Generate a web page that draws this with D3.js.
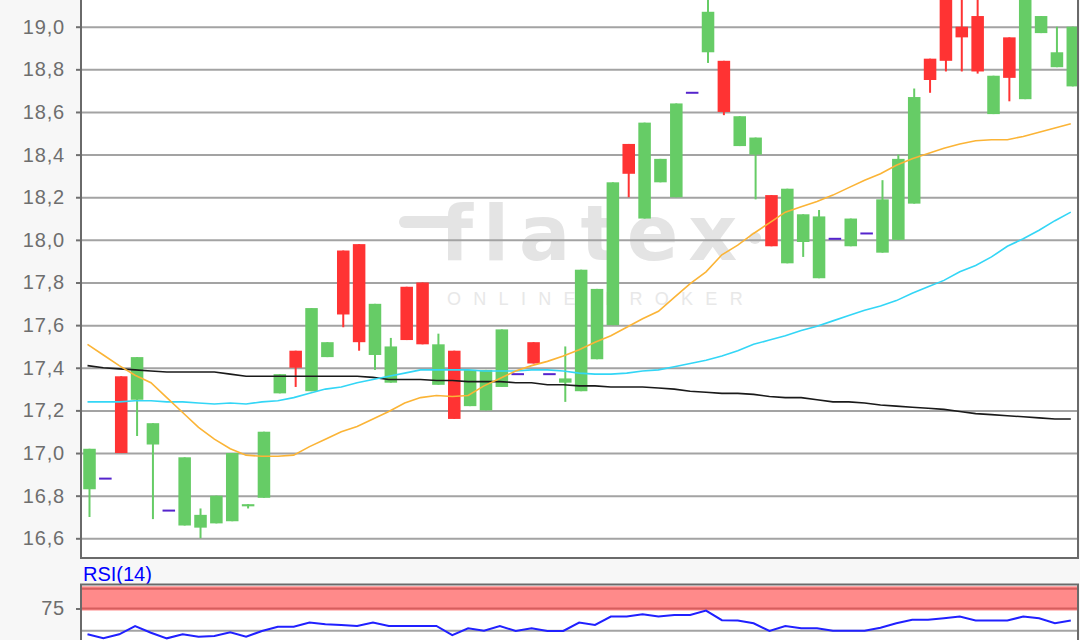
<!DOCTYPE html>
<html><head><meta charset="utf-8">
<script src="https://cdn.jsdelivr.net/npm/d3@7"></script>
<style>html,body{margin:0;padding:0;background:#f7f7f7;} svg{display:block;}</style>
</head><body><svg id="c" width="1080" height="640"></svg>
<script>
// ---- data ----
const opens  = [16.83,16.88,17.36,17.25,17.04,16.73,16.66,16.65,16.67,16.68,16.75,16.79,17.28,17.48,17.29,17.45,17.95,17.98,17.46,17.33,17.78,17.80,17.32,17.48,17.22,17.20,17.31,17.37,17.52,17.37,17.33,17.29,17.44,17.60,18.45,18.10,18.27,18.20,18.69,18.88,18.84,18.44,18.40,18.21,17.89,17.99,17.82,18.005,17.97,18.03,17.94,18.00,18.17,18.85,19.20,19.00,19.05,18.59,18.95,18.66,18.97,18.81,18.72];
const highs  = [17.02,16.88,17.36,17.45,17.14,16.73,16.98,16.74,16.80,17.00,16.76,17.10,17.37,17.48,17.68,17.52,17.95,17.98,17.70,17.54,17.78,17.80,17.56,17.48,17.39,17.39,17.58,17.37,17.52,17.37,17.50,17.86,17.77,18.27,18.45,18.55,18.38,18.64,18.69,19.16,18.84,18.58,18.48,18.21,18.24,18.12,18.14,18.005,18.10,18.03,18.28,18.40,18.71,18.85,19.20,19.20,19.20,18.77,18.95,19.20,19.05,19.00,19.00];
const lows   = [16.70,16.88,17.00,17.08,16.69,16.73,16.66,16.60,16.67,16.68,16.74,16.79,17.28,17.31,17.29,17.45,17.59,17.48,17.39,17.33,17.53,17.51,17.32,17.16,17.22,17.20,17.31,17.37,17.42,17.37,17.24,17.29,17.44,17.60,18.20,18.10,18.27,18.20,18.69,18.83,18.585,18.44,18.19,17.97,17.89,17.92,17.82,18.005,17.97,18.03,17.94,18.00,18.17,18.69,18.79,18.79,18.78,18.59,18.65,18.66,18.97,18.81,18.72];
const closes = [17.02,16.88,17.00,17.45,17.14,16.73,16.98,16.71,16.80,17.00,16.76,17.10,17.37,17.40,17.68,17.52,17.65,17.52,17.70,17.50,17.53,17.51,17.51,17.16,17.39,17.39,17.58,17.37,17.42,17.37,17.35,17.86,17.77,18.27,18.31,18.55,18.38,18.64,18.69,19.07,18.60,18.58,18.48,17.97,18.24,18.12,18.11,18.005,18.10,18.03,18.19,18.38,18.67,18.75,18.84,18.95,18.79,18.77,18.76,19.20,19.05,18.88,19.00];
const maShort = [17.51,17.46,17.41,17.365,17.33,17.26,17.19,17.12,17.065,17.02,16.99,16.985,16.985,16.99,17.03,17.065,17.10,17.125,17.16,17.195,17.235,17.26,17.27,17.265,17.27,17.315,17.35,17.385,17.41,17.43,17.455,17.485,17.52,17.55,17.59,17.63,17.665,17.73,17.795,17.85,17.93,17.975,18.03,18.08,18.13,18.155,18.18,18.21,18.245,18.28,18.31,18.35,18.38,18.405,18.43,18.45,18.465,18.47,18.47,18.485,18.505,18.525,18.545];
const maMid = [17.24,17.24,17.24,17.245,17.245,17.24,17.24,17.235,17.23,17.235,17.23,17.24,17.245,17.26,17.28,17.30,17.31,17.33,17.345,17.36,17.375,17.39,17.39,17.39,17.39,17.385,17.385,17.385,17.39,17.39,17.385,17.375,17.37,17.37,17.375,17.385,17.39,17.405,17.42,17.435,17.455,17.48,17.51,17.53,17.55,17.575,17.595,17.62,17.645,17.67,17.69,17.715,17.75,17.78,17.81,17.85,17.88,17.92,17.97,18.005,18.045,18.09,18.13];
const maLong = [17.41,17.40,17.395,17.39,17.385,17.38,17.38,17.38,17.38,17.37,17.36,17.36,17.36,17.36,17.36,17.36,17.36,17.36,17.355,17.345,17.345,17.345,17.34,17.34,17.335,17.335,17.335,17.33,17.33,17.32,17.32,17.315,17.315,17.31,17.31,17.31,17.305,17.30,17.29,17.285,17.28,17.28,17.275,17.265,17.26,17.26,17.25,17.24,17.24,17.235,17.225,17.22,17.215,17.21,17.205,17.195,17.185,17.18,17.175,17.17,17.165,17.16,17.16];
const rsi = [45.9,41.4,45.9,55.3,47.7,41.4,45.9,43.2,44.0,48.2,43.2,49.7,54.5,54.5,59.1,57.3,56.5,55.3,59.1,55.3,55.3,55.3,55.3,45.1,52.7,50.0,55.3,49.7,52.7,49.7,49.7,59.1,56.5,65.9,65.9,68.6,65.9,67.8,67.8,72.7,61.9,61.4,58.4,49.7,55.3,52.7,52.7,50.0,50.0,50.0,53.4,58.4,62.2,62.2,64.1,65.9,61.4,61.4,61.4,65.9,64.1,58.4,61.4];
const yTicks = [16.6,16.8,17.0,17.2,17.4,17.6,17.8,18.0,18.2,18.4,18.6,18.8,19.0];
const yTickLabels = ["16,6","16,8","17,0","17,2","17,4","17,6","17,8","18,0","18,2","18,4","18,6","18,8","19,0"];
const rsiTicks = [50,75];
const rsiTickLabels = ["","75"];
const rsiZone = [75,100];

// ---- layout ----
const W=1080,H=640;
const L=81, R=1078, mainTop=-60, mainBottom=558;
const rTop=584.5, rBottom=660;
const font="'Liberation Sans', Arial, sans-serif";
const svg=d3.select('#c');
svg.append('rect').attr('width',W).attr('height',H).attr('fill','#f7f7f7');

const idx=d3.range(opens.length);
const x=d3.scalePoint().domain(idx).range([89.5,1072.8]);
const y=d3.scaleLinear().domain([16.6,19.0]).range([538.3,26.7]);
const yR=d3.scaleLinear().domain([50,75]).range([630.7,608.5]);
const bodyW=x.step()*0.79;

const defs=svg.append('defs');
defs.append('clipPath').attr('id','mainClip').append('rect')
  .attr('x',L).attr('y',mainTop).attr('width',R-L).attr('height',mainBottom-mainTop);
defs.append('clipPath').attr('id','rsiClip').append('rect')
  .attr('x',L).attr('y',rTop).attr('width',R-L).attr('height',rBottom-rTop);

// main plot background
svg.append('rect').attr('x',L).attr('y',mainTop).attr('width',R-L).attr('height',mainBottom-mainTop).attr('fill','#fff');

// watermark
const wmc='#e4e4e4';
const wm=svg.append('g').attr('clip-path','url(#mainClip)');
wm.append('line').attr('x1',405).attr('x2',452).attr('y1',222).attr('y2',222)
  .attr('stroke',wmc).attr('stroke-width',12).attr('stroke-linecap','round');
wm.append('text').attr('x',440).attr('y',260).text('flatex')
  .attr('font-family',"'DejaVu Sans', sans-serif").attr('font-weight','bold').attr('font-size',76)
  .attr('letter-spacing',10).attr('fill',wmc);
wm.append('circle').attr('cx',755).attr('cy',238).attr('r',6).attr('fill',wmc);
wm.append('text').attr('x',447).attr('y',305).text('ONLINE BROKER')
  .attr('font-family',font).attr('font-size',18).attr('letter-spacing',12.3).attr('fill','#e8e8e8');

// y axis with gridlines
const yAxis=d3.axisLeft(y).tickValues(yTicks).tickSize(-(R-L)).tickFormat((d,i)=>yTickLabels[i]);
const ga=svg.append('g').attr('transform',`translate(${L},0)`).call(yAxis);
ga.select('.domain').remove();
ga.selectAll('.tick line').attr('stroke','#a3a3a3').attr('stroke-width',2);
ga.selectAll('.tick').append('line').attr('x1',-5).attr('x2',0).attr('stroke','#707070').attr('stroke-width',2);
ga.selectAll('.tick text').attr('x',-16).attr('font-family',font).attr('font-size',20)
  .attr('letter-spacing',0.8).attr('fill','#6e6e6e');

// candles
const gc=svg.append('g').attr('clip-path','url(#mainClip)');
const isFlat=i=>opens[i]===closes[i]&&highs[i]===lows[i];
const col=i=>closes[i]>=opens[i]?'#66cc66':'#ff3333';
const normal=idx.filter(i=>!isFlat(i));
gc.selectAll('line.wick').data(normal).join('line').attr('class','wick')
  .attr('x1',i=>x(i)).attr('x2',i=>x(i)).attr('y1',i=>y(highs[i])).attr('y2',i=>y(lows[i]))
  .attr('stroke',col).attr('stroke-width',2);
gc.selectAll('rect.body').data(normal).join('rect').attr('class','body')
  .attr('x',i=>x(i)-bodyW/2).attr('width',bodyW)
  .attr('y',i=>y(Math.max(opens[i],closes[i])))
  .attr('height',i=>Math.max(1.5,Math.abs(y(opens[i])-y(closes[i]))))
  .attr('fill',col);
gc.selectAll('line.flat').data(idx.filter(isFlat)).join('line').attr('class','flat')
  .attr('x1',i=>x(i)-bodyW/2).attr('x2',i=>x(i)+bodyW/2)
  .attr('y1',i=>y(closes[i])).attr('y2',i=>y(closes[i]))
  .attr('stroke','#5524cc').attr('stroke-width',2);

// moving averages
const mkLine=arr=>d3.line().x((d,i)=>x(i)-2).y(d=>y(d))(arr);
gc.append('path').attr('d',mkLine(maLong)).attr('fill','none').attr('stroke','#1a1a1a').attr('stroke-width',1.6);
gc.append('path').attr('d',mkLine(maMid)).attr('fill','none').attr('stroke','#33d6f6').attr('stroke-width',1.6);
gc.append('path').attr('d',mkLine(maShort)).attr('fill','none').attr('stroke','#fbb436').attr('stroke-width',1.6);

// main borders
const bc='#6a6a6a';
svg.append('line').attr('x1',L).attr('x2',L).attr('y1',mainTop).attr('y2',mainBottom+1).attr('stroke',bc).attr('stroke-width',2);
svg.append('line').attr('x1',R).attr('x2',R).attr('y1',mainTop).attr('y2',mainBottom+1).attr('stroke',bc).attr('stroke-width',2);
svg.append('line').attr('x1',L).attr('x2',R+1).attr('y1',mainBottom).attr('y2',mainBottom).attr('stroke',bc).attr('stroke-width',2);

// ---- RSI panel ----
svg.append('text').attr('x',83).attr('y',581).text('RSI(14)')
  .attr('font-family',font).attr('font-size',20).attr('fill','#0000ff');
svg.append('rect').attr('x',L).attr('y',rTop).attr('width',R-L).attr('height',rBottom-rTop).attr('fill','#fff');
const gr=svg.append('g').attr('clip-path','url(#rsiClip)');
gr.append('rect').attr('x',L).attr('width',R-L)
  .attr('y',yR(rsiZone[1])).attr('height',yR(rsiZone[0])-yR(rsiZone[1])+2)
  .attr('fill','#ff8a8a');
gr.append('line').attr('x1',L).attr('x2',R).attr('y1',yR(rsiZone[1])+2.5).attr('y2',yR(rsiZone[1])+2.5)
  .attr('stroke','#d65e5e').attr('stroke-width',2);
gr.append('line').attr('x1',L).attr('x2',R).attr('y1',yR(rsiZone[0])).attr('y2',yR(rsiZone[0]))
  .attr('stroke','#d65e5e').attr('stroke-width',2);
gr.append('line').attr('x1',L).attr('x2',R).attr('y1',yR(rsiTicks[0])).attr('y2',yR(rsiTicks[0]))
  .attr('stroke','#a3a3a3').attr('stroke-width',2);
gr.append('path').attr('d',d3.line().x((d,i)=>x(i)-2).y(d=>yR(d))(rsi))
  .attr('fill','none').attr('stroke','#2020ff').attr('stroke-width',2);
const rAxis=svg.append('g').attr('transform',`translate(${L},0)`)
  .call(d3.axisLeft(yR).tickValues([rsiTicks[1]]).tickSize(5).tickFormat(()=>rsiTickLabels[1]));
rAxis.select('.domain').remove();
rAxis.selectAll('.tick line').attr('stroke','#707070').attr('stroke-width',2);
rAxis.selectAll('.tick text').attr('x',-16).attr('font-family',font).attr('font-size',20)
  .attr('letter-spacing',0.8).attr('fill','#6e6e6e');
svg.append('line').attr('x1',L).attr('x2',L).attr('y1',rTop).attr('y2',H).attr('stroke',bc).attr('stroke-width',2);
svg.append('line').attr('x1',R).attr('x2',R).attr('y1',rTop).attr('y2',H).attr('stroke',bc).attr('stroke-width',2);
svg.append('line').attr('x1',L-1).attr('x2',R+1).attr('y1',rTop).attr('y2',rTop).attr('stroke',bc).attr('stroke-width',2);
</script></body></html>
